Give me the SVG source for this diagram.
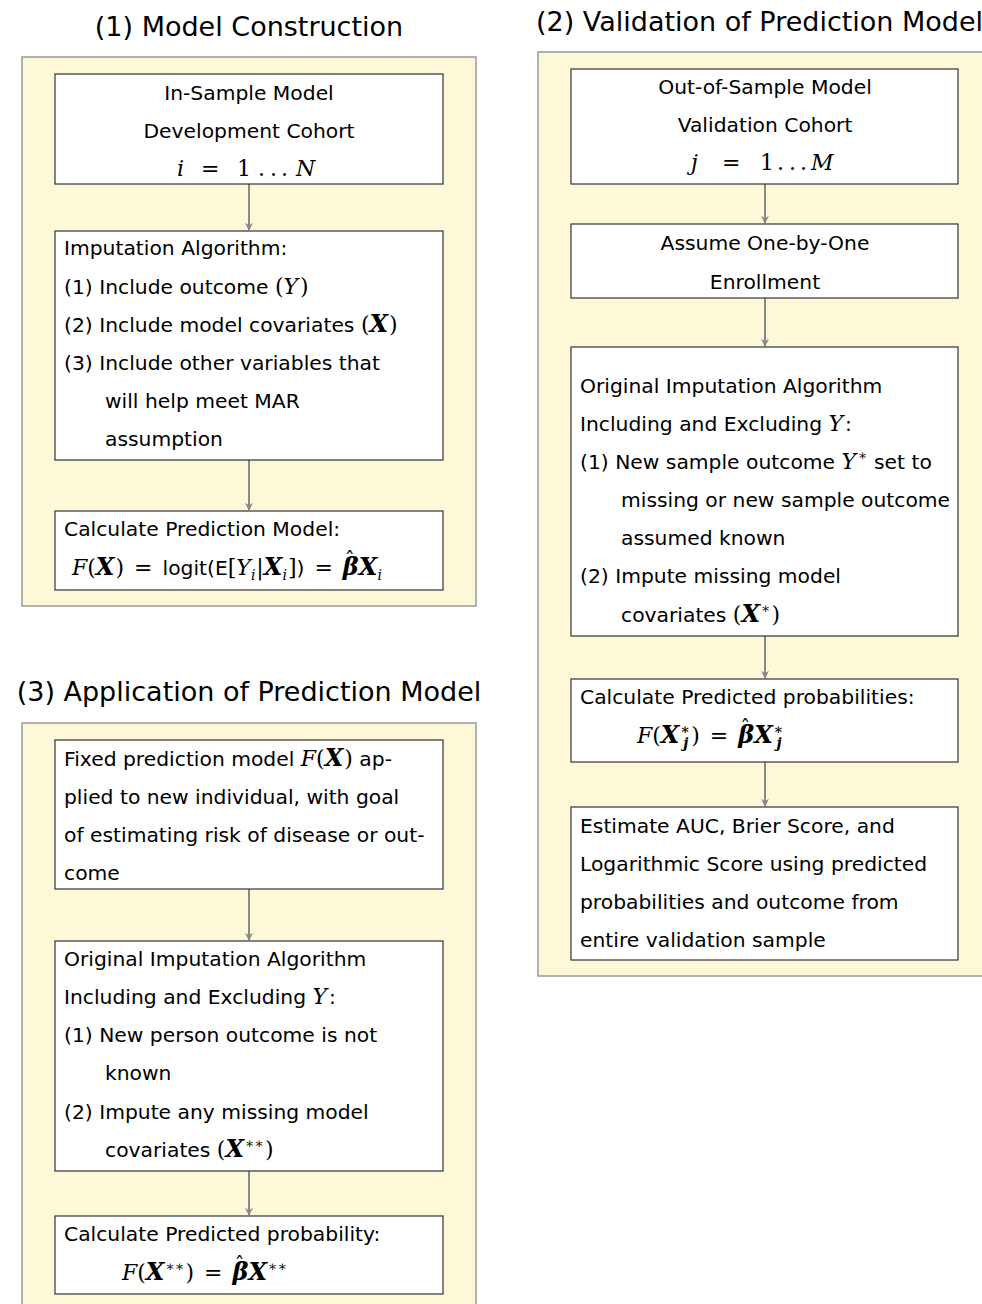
<svg xmlns="http://www.w3.org/2000/svg" width="982" height="1304" viewBox="0 0 982 1304">
<defs>
<marker id="ah" viewBox="0 0 10 10" refX="9" refY="5" markerWidth="8" markerHeight="8" orient="auto" markerUnits="userSpaceOnUse"><path d="M0,0 L10,5 L0,10 L3,5 Z" fill="#888"/></marker>
<style>
.panel{fill:#fdf8d8;stroke:#999;stroke-width:1.5}
.box{fill:#fff;stroke:#333;stroke-width:1.2}
.t{font-family:"DejaVu Sans","Liberation Sans",sans-serif;font-size:20.3px;fill:#000}
.ttl{font-family:"DejaVu Sans","Liberation Sans",sans-serif;font-size:27px;fill:#000}
.m{font-family:"DejaVu Serif","Liberation Serif",serif;font-style:italic;font-weight:normal;font-size:22px}
.b{font-family:"DejaVu Serif","Liberation Serif",serif;font-style:italic;font-weight:bold;font-size:24px}
.u{font-family:"DejaVu Serif","Liberation Serif",serif;font-style:normal;font-weight:normal;font-size:22px}
.s{font-size:14px}
.hat{font-family:"DejaVu Serif","Liberation Serif",serif;font-size:20px}
.c{text-anchor:middle}
.conn line{stroke:#888;stroke-width:2;marker-end:url(#ah)}
</style>
</defs>
<rect width="982" height="1304" fill="#fff"/>
<rect class="panel" x="22" y="57" width="454" height="549"/>
<rect class="panel" x="538" y="52" width="460" height="924"/>
<rect class="panel" x="22" y="723" width="454" height="600"/>
<text class="ttl c" x="249" y="36">(1) Model Construction</text>
<text class="ttl" x="536" y="31">(2) Validation of Prediction Model</text>
<text class="ttl c" x="249" y="701">(3) Application of Prediction Model</text>

<g class="conn">
<line x1="249" y1="184" x2="249" y2="230"/>
<line x1="249" y1="460" x2="249" y2="510"/>
<line x1="765" y1="184" x2="765" y2="223"/>
<line x1="765" y1="298" x2="765" y2="346"/>
<line x1="765" y1="636" x2="765" y2="678"/>
<line x1="765" y1="762" x2="765" y2="806"/>
<line x1="249" y1="889" x2="249" y2="940"/>
<line x1="249" y1="1171" x2="249" y2="1215"/>
</g>

<g id="p1b1">
<rect class="box" x="55" y="74" width="388" height="110"/>
<text class="t c" x="249" y="100">In-Sample Model</text>
<text class="t c" x="249" y="138">Development Cohort</text>
<text class="t" y="176"><tspan class="m" x="177">i</tspan><tspan class="u" x="201">=</tspan><tspan class="u" x="237">1</tspan><tspan class="u" x="258">.</tspan><tspan class="u" x="270">.</tspan><tspan class="u" x="281">.</tspan><tspan class="m" x="296">N</tspan></text>
</g>
<g id="p1b2">
<rect class="box" x="55" y="231" width="388" height="229"/>
<text class="t" x="64" y="255">Imputation Algorithm:</text>
<text class="t" x="64" y="294">(1) Include outcome <tspan class="u">(</tspan><tspan class="m">Y</tspan><tspan class="u" dx="2">)</tspan></text>
<text class="t" x="64" y="332">(2) Include model covariates <tspan class="u">(</tspan><tspan class="b">X</tspan><tspan class="u" dx="1">)</tspan></text>
<text class="t" x="64" y="370">(3) Include other variables that</text>
<text class="t" x="105" y="408">will help meet MAR</text>
<text class="t" x="105" y="446">assumption</text>
</g>
<g id="p1b3">
<rect class="box" x="55" y="511" width="388" height="79"/>
<text class="t" x="64" y="536">Calculate Prediction Model:</text>
<text class="t" x="72" y="575"><tspan class="m">F</tspan><tspan class="u">(</tspan><tspan class="b">X</tspan><tspan class="u" dx="1">)</tspan><tspan class="u" dx="10">=</tspan><tspan dx="10">logit(E</tspan><tspan class="u">[</tspan><tspan class="m">Y</tspan><tspan class="m s" dy="5">i</tspan><tspan class="u" dx="1" dy="-5">|</tspan><tspan class="b">X</tspan><tspan class="m s" dy="5">i</tspan><tspan class="u" dx="1" dy="-5">]</tspan><tspan>)</tspan><tspan class="u" dx="10">=</tspan><tspan class="b" dx="10">β</tspan><tspan class="hat" dx="-14" dy="-8">ˆ</tspan><tspan class="b" dx="4" dy="8">X</tspan><tspan class="m s" dy="5">i</tspan></text>
</g>

<g id="p2b1">
<rect class="box" x="571" y="69" width="387" height="115"/>
<text class="t c" x="765" y="94">Out-of-Sample Model</text>
<text class="t c" x="765" y="132">Validation Cohort</text>
<text class="t" y="170"><tspan class="m" x="691">j</tspan><tspan class="u" x="722">=</tspan><tspan class="u" x="760">1</tspan><tspan class="u" x="777">.</tspan><tspan class="u" x="789">.</tspan><tspan class="u" x="800">.</tspan><tspan class="m" x="811">M</tspan></text>
</g>
<g id="p2b2">
<rect class="box" x="571" y="224" width="387" height="74"/>
<text class="t c" x="765" y="250">Assume One-by-One</text>
<text class="t c" x="765" y="289">Enrollment</text>
</g>
<g id="p2b3">
<rect class="box" x="571" y="347" width="387" height="289"/>
<text class="t" x="580" y="393">Original Imputation Algorithm</text>
<text class="t" x="580" y="431">Including and Excluding <tspan class="m">Y</tspan><tspan dx="2">:</tspan></text>
<text class="t" x="580" y="469">(1) New sample outcome <tspan class="m">Y</tspan><tspan class="u s" dx="2" dy="-9">∗</tspan><tspan dy="9"> set to</tspan></text>
<text class="t" x="621" y="507">missing or new sample outcome</text>
<text class="t" x="621" y="545">assumed known</text>
<text class="t" x="580" y="583">(2) Impute missing model</text>
<text class="t" x="621" y="622">covariates <tspan class="u">(</tspan><tspan class="b">X</tspan><tspan class="u s" dx="1" dy="-9">∗</tspan><tspan class="u" dx="1" dy="9">)</tspan></text>
</g>
<g id="p2b4">
<rect class="box" x="571" y="679" width="387" height="83"/>
<text class="t" x="580" y="704">Calculate Predicted probabilities:</text>
<text class="t" x="637" y="743"><tspan class="m">F</tspan><tspan class="u">(</tspan><tspan class="b">X</tspan><tspan class="b s" dx="1" dy="-9">∗</tspan><tspan class="b s" dx="-7" dy="14">j</tspan><tspan class="u" dx="3" dy="-5">)</tspan><tspan class="u" dx="10">=</tspan><tspan class="b" dx="10">β</tspan><tspan class="hat" dx="-14" dy="-8">ˆ</tspan><tspan class="b" dx="4" dy="8">X</tspan><tspan class="b s" dx="1" dy="-9">∗</tspan><tspan class="b s" dx="-7" dy="14">j</tspan></text>
</g>
<g id="p2b5">
<rect class="box" x="571" y="807" width="387" height="153"/>
<text class="t" x="580" y="833">Estimate AUC, Brier Score, and</text>
<text class="t" x="580" y="871">Logarithmic Score using predicted</text>
<text class="t" x="580" y="909">probabilities and outcome from</text>
<text class="t" x="580" y="947">entire validation sample</text>
</g>

<g id="p3b1">
<rect class="box" x="55" y="740" width="388" height="149"/>
<text class="t" x="64" y="766">Fixed prediction model <tspan class="m">F</tspan><tspan class="u">(</tspan><tspan class="b">X</tspan><tspan class="u" dx="1">)</tspan><tspan> ap-</tspan></text>
<text class="t" x="64" y="804">plied to new individual, with goal</text>
<text class="t" x="64" y="842">of estimating risk of disease or out-</text>
<text class="t" x="64" y="880">come</text>
</g>
<g id="p3b2">
<rect class="box" x="55" y="941" width="388" height="230"/>
<text class="t" x="64" y="966">Original Imputation Algorithm</text>
<text class="t" x="64" y="1004">Including and Excluding <tspan class="m">Y</tspan><tspan dx="2">:</tspan></text>
<text class="t" x="64" y="1042">(1) New person outcome is not</text>
<text class="t" x="105" y="1080">known</text>
<text class="t" x="64" y="1119">(2) Impute any missing model</text>
<text class="t" x="105" y="1157">covariates <tspan class="u">(</tspan><tspan class="b">X</tspan><tspan class="u s" dx="1" dy="-9">∗∗</tspan><tspan class="u" dx="1" dy="9">)</tspan></text>
</g>
<g id="p3b3">
<rect class="box" x="55" y="1216" width="388" height="78"/>
<text class="t" x="64" y="1241">Calculate Predicted probability:</text>
<text class="t" x="122" y="1280"><tspan class="m">F</tspan><tspan class="u">(</tspan><tspan class="b">X</tspan><tspan class="u s" dx="1" dy="-9">∗∗</tspan><tspan class="u" dx="1" dy="9">)</tspan><tspan class="u" dx="10">=</tspan><tspan class="b" dx="10">β</tspan><tspan class="hat" dx="-14" dy="-8">ˆ</tspan><tspan class="b" dx="4" dy="8">X</tspan><tspan class="u s" dx="1" dy="-9">∗∗</tspan></text>
</g>
</svg>
